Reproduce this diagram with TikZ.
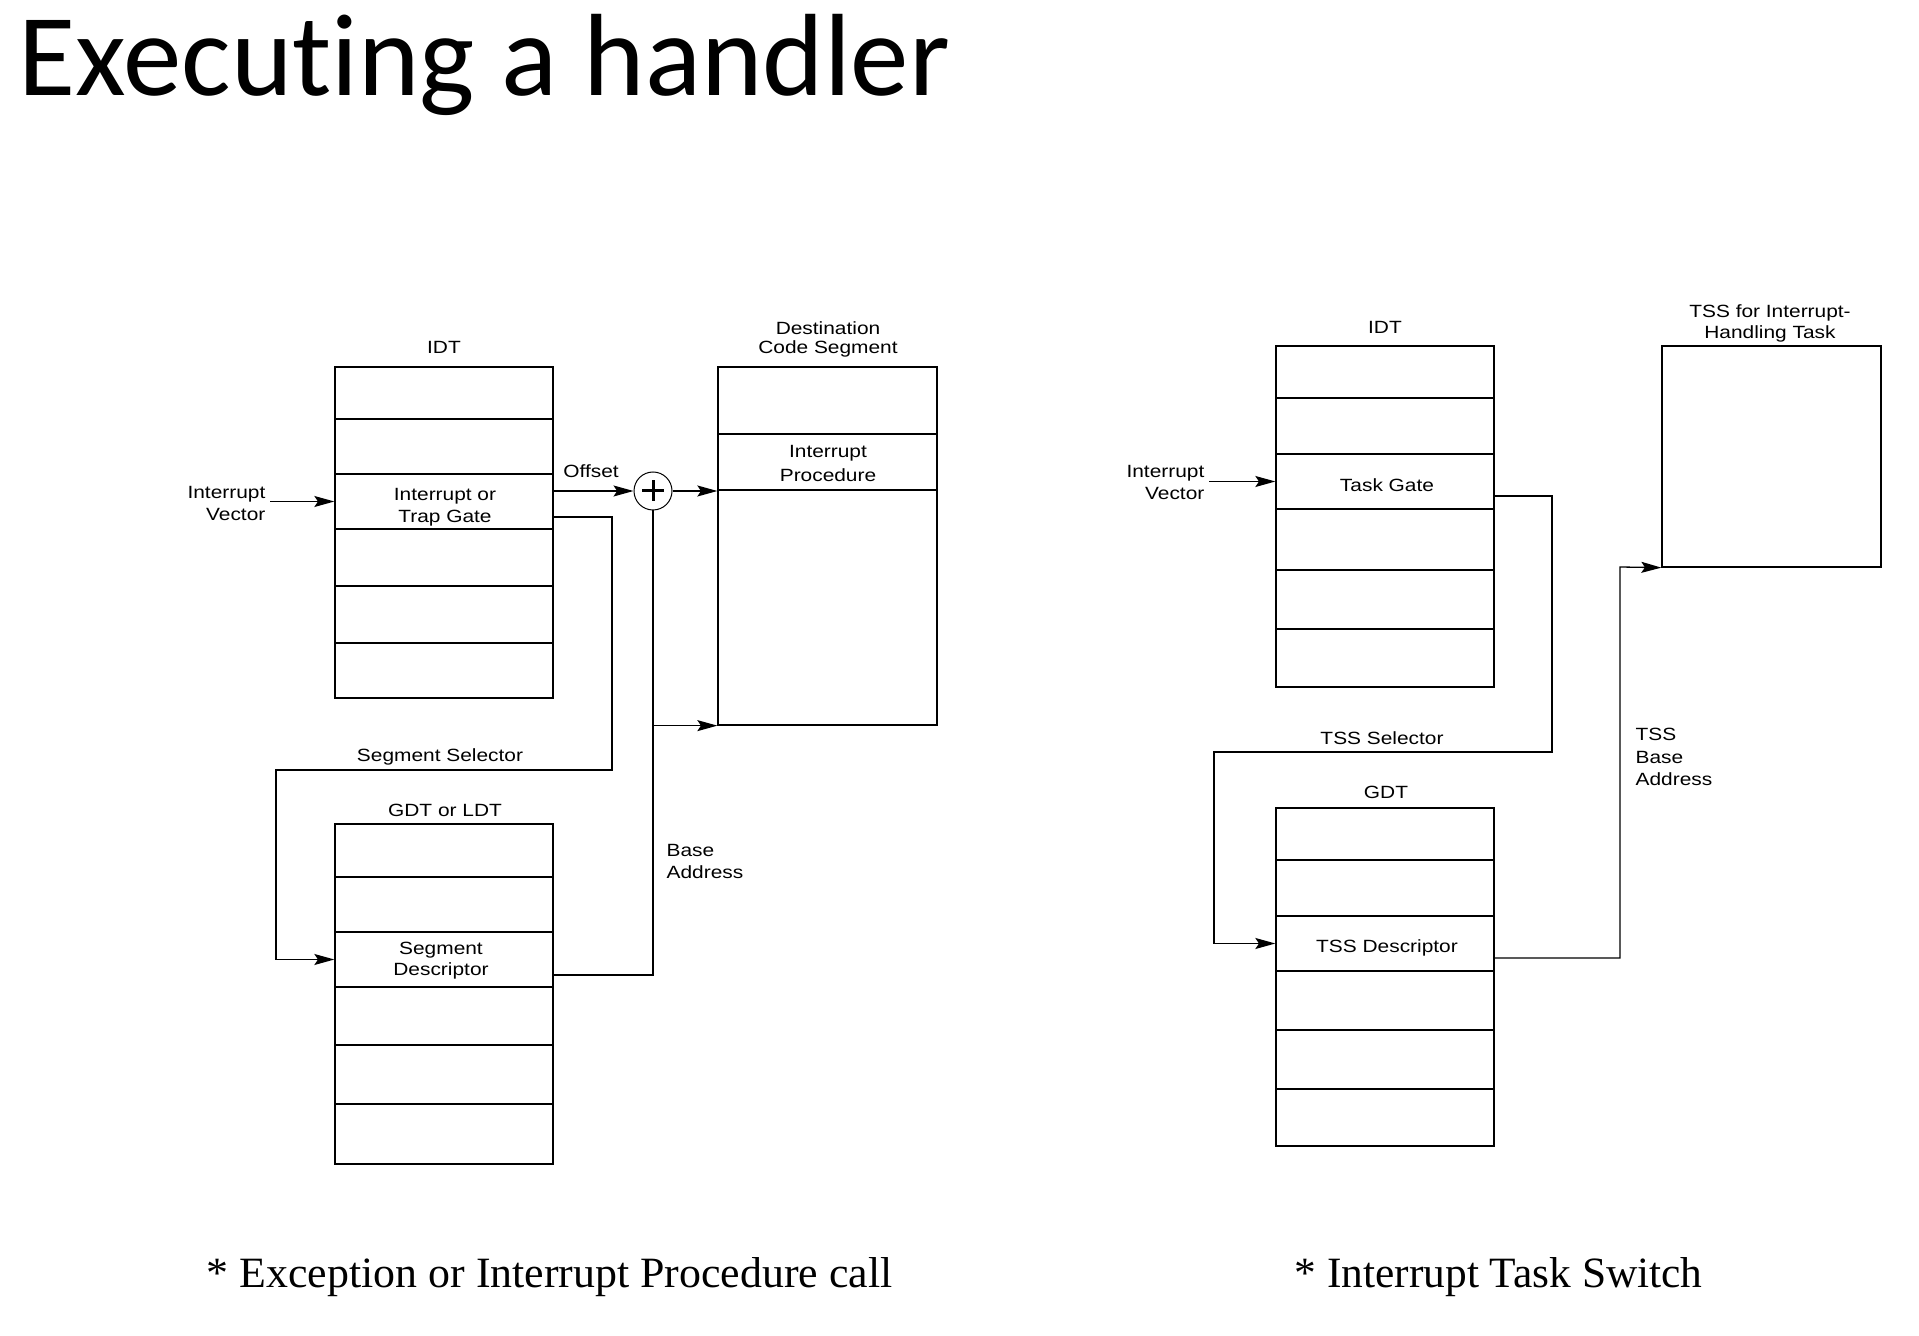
\documentclass[tikz,border=0pt]{standalone}
\usepackage{graphicx}
\usepackage{fontspec}
\newfontfamily\diagfont[FakeStretch=1.18]{Liberation Sans}
\newfontfamily\headfont[Ligatures={NoCommon,NoContextual}]{Carlito}
\newfontfamily\notefont{Liberation Serif}
\usetikzlibrary{arrows.meta,calc,fit}
% stacked label lines: [stretch]{column alignment}{lines}
\newcommand\txtrows[3][1]{{\renewcommand\arraystretch{#1}\begin{tabular}[t]{@{}#2@{}}#3\end{tabular}}}
\begin{document}
\begin{tikzpicture}[x=0.5pt,y=-0.5pt,line width=0.65pt,
  cell/.style={draw,inner sep=0pt,line width=0.65pt},
  lbl/.style={font=\diagfont\fontsize{8.85pt}{11pt}\selectfont,inner sep=0pt,anchor=base},
  arr/.style={-{Stealth[length=10pt,width=5.5pt,inset=1.8pt]}},
  adder/.style={draw,circle,minimum size=19pt,inner sep=0pt,line width=0.5pt}]
\fill[white] (0,0) rectangle (1919,1336);
\useasboundingbox (0,0) rectangle (1919,1336);

% title and captions
\node[anchor=base west,inner sep=0pt,font=\headfont\fontsize{58.5pt}{60pt}\selectfont] (title) at (18,96) {Executing a handler};
\node[anchor=base west,inner sep=0pt] (capL) at (206,1287) {\resizebox{343pt}{15pt}{\notefont * Exception or Interrupt Procedure call}};
\node[anchor=base west,inner sep=0pt] (capR) at (1294,1287) {\resizebox{204pt}{15pt}{\notefont * Interrupt Task Switch}};

% ---------- procedure call ----------
\foreach \n/\a/\b in {1/367/419,2/419/474,3/474/529,4/529/586,5/586/643,6/643/698}
  \node[cell,fit={(335,\a)(553,\b)}] (iL\n) {};
\foreach \n/\a/\b in {1/824/877,2/877/932,3/932/987,4/987/1045,5/1045/1104,6/1104/1164}
  \node[cell,fit={(335,\a)(553,\b)}] (gL\n) {};
\node[cell,fit={(718,367)(937,434)}] (d1) {};
\node[cell,fit={(718,434)(937,490)}] (dP) {};
\node[cell,fit={(718,490)(937,725)}] (d3) {};
\node[adder] (plusL) at (653,491) {};
\draw[line width=1.5pt] ($(plusL.center)+(-11,0)$) -- ($(plusL.center)+(11,0)$);
\draw[line width=1.5pt] ($(plusL.center)+(0,-10.5)$) -- ($(plusL.center)+(0,10.5)$);

\node[lbl] (idtLname) at (444,354) {IDT};
\node[lbl,anchor=base east,inner xsep=2pt] (ivL) at (270,499) {\txtrows{r}{Interrupt\\Vector}};
\node[lbl] (gateTxt) at (445,501) {\txtrows{c}{Interrupt or\\Trap Gate}};
\node[lbl] (offTxt) at (591,478) {Offset};
\node[lbl] (selTxt) at (440,762) {Segment Selector};
\node[lbl] (gdtLname) at (445,817) {GDT or LDT};
\node[lbl] (sdTxt) at (441,955) {\txtrows[0.91]{c}{Segment\\Descriptor}};
\node[lbl,anchor=base west] (baseTxt) at (666,857) {\txtrows[0.955]{l}{Base\\Address}};
\node[lbl] (destName) at (828,335) {\txtrows[0.86]{c}{Destination\\Code Segment}};
\node[lbl] (procTxt) at (828,458) {\txtrows[1.05]{c}{Interrupt\\Procedure}};

\coordinate (selR) at (612,770);
\coordinate (selL) at (276,770);
\draw[arr] (ivL.east |- iL3.west) -- (iL3.west);
\draw[arr] (iL3.east |- plusL.west) -- (plusL.west);
\draw[arr] (plusL.east) -- (plusL.east -| dP.west);
\draw[arr] ($(iL3.east)+(0,15.5)$) -| (selR) -- (selL) |- (gL3.west);
\draw ($(gL3.east)+(0,15.5)$) -| (plusL.south);
\draw[arr] (plusL.south |- d3.south) -- (d3.south west);

% ---------- task switch ----------
\foreach \n/\a/\b in {1/346/398,2/398/454,3/454/509,4/509/570,5/570/629,6/629/687}
  \node[cell,fit={(1276,\a)(1494,\b)}] (iR\n) {};
\foreach \n/\a/\b in {1/808/860,2/860/916,3/916/971,4/971/1030,5/1030/1089,6/1089/1146}
  \node[cell,fit={(1276,\a)(1494,\b)}] (gR\n) {};
\node[cell,fit={(1662,346)(1881,567)}] (tss) {};

\node[lbl] (idtRname) at (1385,334) {IDT};
\node[lbl,anchor=base east,inner xsep=2pt] (ivR) at (1209,478) {\txtrows[0.955]{r}{Interrupt\\Vector}};
\node[lbl] (taskTxt) at (1387,492) {Task Gate};
\node[lbl] (tselTxt) at (1382,745) {TSS Selector};
\node[lbl] (gdtRname) at (1386,799) {GDT};
\node[lbl] (tdTxt) at (1387,952) {TSS Descriptor};
\node[lbl] (tssName) at (1770,318) {\txtrows[0.91]{c}{TSS for Interrupt-\\Handling Task}};
\node[lbl,anchor=base west] (tbaseTxt) at (1635,741) {\txtrows[1.02]{l}{TSS\\Base\\Address}};

\coordinate (tselR) at (1552,752);
\coordinate (tselL) at (1214,752);
\coordinate (tbaseTurn) at (1620,567);
\draw[arr] (ivR.east |- iR3.west) -- (iR3.west);
\draw[arr] ($(iR3.east)+(0,14.5)$) -| (tselR) -- (tselL) |- (gR3.west);
\draw[arr] ($(gR3.east)+(0,14.5)$) -| (tbaseTurn) -- (tss.south west);
\end{tikzpicture}
\end{document}
